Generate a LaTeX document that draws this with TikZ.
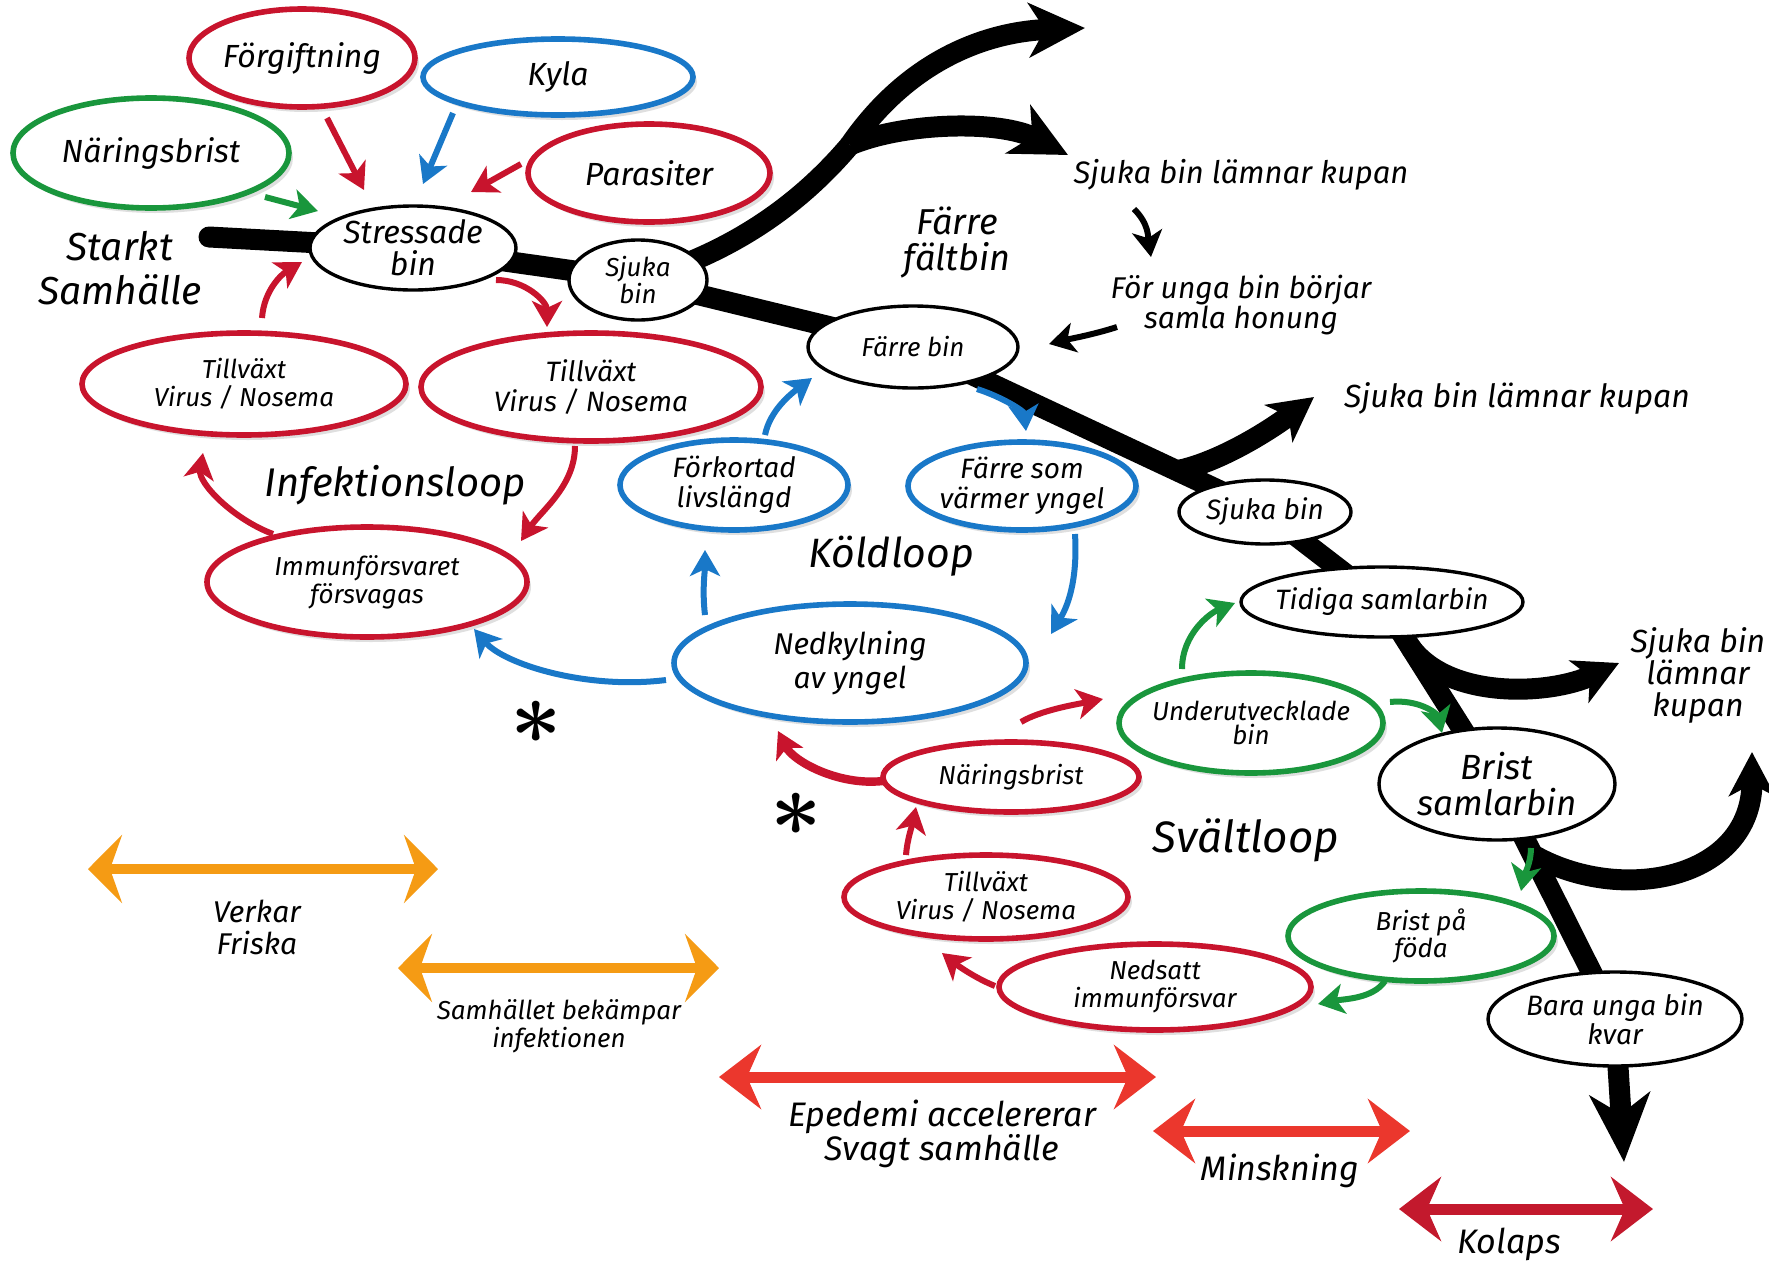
\documentclass[tikz,border=0pt]{standalone}
\usepackage{fontspec}
\setmainfont{Fira Sans}
\usetikzlibrary{shapes.geometric,arrows.meta,calc,shadows}
\definecolor{cred}{RGB}{200,20,45}
\definecolor{cblue}{RGB}{25,120,200}
\definecolor{cgreen}{RGB}{25,150,60}
\definecolor{corange}{RGB}{245,155,20}
\definecolor{bred}{RGB}{235,55,45}
\definecolor{dred}{RGB}{195,25,45}
\newcommand\fz[2]{\fontsize{#1}{#2}\selectfont\itshape}
\pgfdeclarelayer{bg}
\pgfsetlayers{bg,main}
\begin{document}
\begin{tikzpicture}[x=0.5pt,y=-0.5pt,
  shad/.style={drop shadow={shadow xshift=2pt,shadow yshift=-2.5pt,opacity=0.25}},
  ell/.style={ellipse,inner sep=0pt,fill=white},
  bk/.style={ell,draw=black,line width=1.7pt},
  rd/.style={ell,draw=cred,line width=2.8pt,shad},
  bu/.style={ell,draw=cblue,line width=2.8pt,shad},
  gn/.style={ell,draw=cgreen,line width=2.8pt,shad},
  sz/.style 2 args={minimum width=#1pt,minimum height=#2pt},
  tx/.style={align=center,inner sep=0pt},
  L/.style n args={3}{label={[tx,font=\fz{#1}{#2}]center:{#3}}},
  ca/.style={line width=3pt,-{Stealth[length=13pt,width=15pt,inset=3.5pt]}},
  trunk/.style={line width=10.5pt,black,line join=round},
  bighead/.style={-{Stealth[length=28pt,width=27pt,inset=8pt]}},
  midhead/.style={-{Stealth[length=22pt,width=23pt,inset=6pt]}},
  ob/.style={line width=5pt,corange,{Stealth[length=17pt,width=34pt,inset=6pt]}-{Stealth[length=17pt,width=34pt,inset=6pt]}},
  rb/.style={line width=5.5pt,#1,{Stealth[length=21pt,width=32pt,inset=7pt]}-{Stealth[length=21pt,width=32pt,inset=7pt]}},
  astx/.style={tx,scale=1.8,font=\boldmath\fontsize{24}{24}\selectfont},
]
\useasboundingbox (0,0) rectangle (1769,1264);
\begin{pgfonlayer}{bg}
\fill[white] (0,0) rectangle (1769,1264);
\end{pgfonlayer}

% ellipses
\node[rd,sz={113}{49},L={16}{17}{Förgiftning}] (forg) at (302,58) {};
\node[bu,sz={135}{38},L={16}{17}{Kyla}] (kyla) at (558,77) {};
\node[gn,sz={138}{55},L={16}{17}{Näringsbrist}] (naer) at (151,153) {};
\node[rd,sz={121}{49},L={16}{17}{Parasiter}] (para) at (649,173) {};
\node[bk,sz={103}{42},L={16}{16}{Stressade\\bin}] (stress) at (413,248) {};
\node[bk,sz={69}{40},L={13}{12}{Sjuka\\bin}] (sjuka1) at (638,280) {};
\node[bk,sz={105}{41},L={13}{14}{Färre bin}] (farre) at (913,347) {};
\node[rd,sz={162}{51},L={13}{14}{Tillväxt\\Virus / Nosema}] (tvL) at (244,384) {};
\node[rd,sz={170}{54},L={14}{15}{Tillväxt\\Virus / Nosema}] (tvR) at (591,387) {};
\node[rd,sz={160}{55},L={13}{14}{Immunförsvaret\\försvagas}] (immun) at (367,582) {};
\node[bu,sz={114}{45},L={14}{15}{Förkortad\\livslängd}] (fork) at (734,485) {};
\node[bu,sz={114}{44},L={14}{15}{Färre som\\värmer yngel}] (farresom) at (1022,486) {};
\node[bu,sz={176}{59},L={15}{17}{Nedkylning\\av yngel}] (ned) at (850,663) {};
\node[bk,sz={86}{32},L={14}{15}{Sjuka bin}] (sjuka2) at (1265,512) {};
\node[bk,sz={141}{35},L={14}{15}{Tidiga samlarbin}] (tidiga) at (1382,602) {};
\node[gn,sz={132}{50},L={13}{12}{Underutvecklade\\bin}] (under) at (1251,723) {};
\node[bk,sz={118}{56},L={17.5}{18}{Brist\\samlarbin}] (brist) at (1497,784) {};
\node[rd,sz={128}{35},L={13}{14}{Näringsbrist}] (naer2) at (1011,777) {};
\node[rd,sz={142}{42},L={13}{14}{Tillväxt\\Virus / Nosema}] (tv2) at (986,897) {};
\node[rd,sz={156}{43},L={13}{14}{Nedsatt\\immunförsvar}] (nedsatt) at (1155,987) {};
\node[gn,sz={133}{45},L={13}{12}{Brist på\\föda}] (foda) at (1421,936) {};
\node[bk,sz={127}{47},L={14}{13}{Bara unga bin\\kvar}] (bara) at (1615,1019) {};

% free text
\node[tx,font=\fz{19.5}{22}] (starkt) at (120,268) {Starkt\\Samhälle};
\node[tx,font=\fz{18}{18}] (faltbin) at (957,243) {Färre\\fältbin};
\node[tx,font=\fz{15.5}{17}] (t1) at (1241,175) {Sjuka bin lämnar kupan};
\node[tx,font=\fz{15}{15}] (t2) at (1241,305) {För unga bin börjar\\samla honung};
\node[tx,font=\fz{16}{17}] (t3) at (1517,398) {Sjuka bin lämnar kupan};
\node[tx,font=\fz{16}{16}] (t4) at (1698,675) {Sjuka bin\\lämnar\\kupan};
\node[tx,font=\fz{20}{22}] (infl) at (395,485) {Infektionsloop};
\node[tx,font=\fz{20.5}{22}] (koldl) at (891,556) {Köldloop};
\node[tx,font=\fz{22}{23}] (svalt) at (1246,840) {Svältloop};
\node[astx] (ast1) at (536,722) {$\ast$};
\node[astx] (ast2) at (796,814) {$\ast$};

% trunk
\coordinate (start) at (209,237);
\coordinate (split) at (850,145);
\coordinate (tipTop) at (1085,28);
\coordinate (tipB) at (1068,155);
\coordinate (b3) at ($(farre)!0.75!(sjuka2)$);
\coordinate (tip3) at (1314,397);
\coordinate (b4) at ($(tidiga)!0.25!(brist)$);
\coordinate (tip4) at (1619,663);
\coordinate (b5) at ($(brist)!0.3!(bara)$);
\coordinate (tip5) at (1752,752);
\coordinate (tipbara) at (1624,1162);
\begin{pgfonlayer}{bg}
\draw[trunk,line cap=round] (start) -- (stress.center) -- (sjuka1.center) -- (farre.center) -- (sjuka2.center) -- (tidiga.center) -- (brist.center) -- (bara.center);
\draw[trunk] (sjuka1.center) .. controls (725,255) and (795,210) .. (split);
\draw[trunk,bighead] (split) .. controls (905,65) and (980,32) .. (tipTop);
\draw[trunk,bighead] (split) .. controls (905,122) and (1000,120) .. (tipB);
\draw[trunk,midhead] (b3) .. controls (1220,462) and (1270,430) .. (tip3);
\draw[trunk,midhead] (b4) .. controls (1450,700) and (1550,695) .. (tip4);
\draw[trunk,midhead] (b5) .. controls (1620,905) and (1752,880) .. (tip5);
\draw[trunk,-{Stealth[length=34pt,width=30pt,inset=10pt]}] (bara.center) -- (tipbara);
\end{pgfonlayer}

% coloured connectors
\draw[ca,cred] ($(forg)+(25,60)$) -- ($(stress)+(-49,-58)$);
\draw[ca,cblue] ($(kyla)+(-105,36)$) -- ($(stress)+(10,-64)$);
\draw[ca,cred] ($(para)+(-128,-9)$) -- ($(stress)+(58,-56)$);
\draw[ca,cgreen] ($(naer)+(114,44)$) -- ($(stress)+(-95,-37)$);
\draw[ca,cred] ($(tvL)+(18,-66)$) .. controls +(2,-28) and +(-20,12) .. ($(stress)+(-111,14)$);
\draw[ca,cred] ($(stress)+(83,32)$) .. controls +(30,0) and +(0,-25) .. ($(tvR)+(-44,-60)$);
\draw[ca,cred] ($(tvR)+(-16,59)$) .. controls +(0,40) and +(20,-30) .. ($(immun)+(154,-41)$);
\draw[ca,cred] ($(immun)+(-94,-48)$) .. controls +(-40,-15) and +(-5,30) .. ($(tvL)+(-41,69)$);
\draw[ca,cblue] ($(ned)+(-184,17)$) .. controls +(-80,10) and +(30,35) .. ($(immun)+(107,47)$);
\draw[ca,cblue] ($(ned)+(-145,-48)$) .. controls +(-3,-25) and +(0,20) .. ($(fork)+(-29,65)$);
\draw[ca,cblue] ($(fork)+(31,-50)$) .. controls +(5,-25) and +(-20,15) .. ($(farre)+(-101,31)$);
\draw[ca,cblue] ($(farre)+(64,42)$) .. controls +(25,8) and +(-2,-20) .. ($(farresom)+(4,-55)$);
\draw[ca,cblue] ($(farresom)+(53,48)$) .. controls +(3,50) and +(15,-25) .. ($(ned)+(201,-29)$);
\draw[ca,cred,line width=4.2pt] ($(naer2)+(-128,4)$) .. controls +(-45,5) and +(15,30) .. ($(ned)+(-72,68)$);
\draw[ca,cred] ($(naer2)+(10,-55)$) .. controls +(20,-12) and +(-25,5) .. ($(under)+(-148,-24)$);
\draw[ca,cgreen] ($(under)+(-69,-54)$) .. controls +(0,-35) and +(-25,10) .. ($(tidiga)+(-147,1)$);
\draw[ca,cgreen] ($(under)+(139,-21)$) .. controls +(28,-3) and +(-5,-20) .. ($(brist)+(-55,-51)$);
\draw[ca,cgreen] ($(brist)+(34,64)$) .. controls +(0,15) and +(3,-15) .. ($(foda)+(100,-45)$);
\draw[ca,cgreen] ($(foda)+(-36,45)$) .. controls +(-12,18) and +(25,-5) .. ($(nedsatt)+(163,17)$);
\draw[ca,cred] ($(nedsatt)+(-160,-1)$) .. controls +(-20,-8) and +(15,12) .. ($(tv2)+(-44,56)$);
\draw[ca,cred] ($(tv2)+(-80,-42)$) .. controls +(1,-15) and +(-3,15) .. ($(naer2)+(-95,30)$);
\draw[ca,black] ($(t1)+(-107,34)$) .. controls +(15,15) and +(-3,-20) .. ($(t2)+(-90,-48)$);
\draw[ca,black] ($(t2)+(-124,22)$) .. controls +(-25,8) and +(20,-5) .. ($(farre)+(136,-3)$);

% phase arrows
\coordinate (o1a) at (88,869);   \coordinate (o1b) at (438,869);
\coordinate (o2a) at (398,968);  \coordinate (o2b) at (719,968);
\coordinate (r1a) at (719,1077); \coordinate (r1b) at (1156,1077);
\coordinate (r2a) at (1153,1131);\coordinate (r2b) at (1410,1131);
\coordinate (r3a) at (1399,1209);\coordinate (r3b) at (1653,1209);
\draw[ob] (o1a) -- (o1b);
\draw[ob] (o2a) -- (o2b);
\draw[rb=bred] (r1a) -- (r1b);
\draw[rb=bred] (r2a) -- (r2b);
\draw[rb=dred] (r3a) -- (r3b);
\node[tx,font=\fz{15}{16}] (verkar) at (257,927) {Verkar\\Friska};
\node[tx,font=\fz{13}{14}] (samh) at (559,1026) {Samhället bekämpar\\infektionen};
\node[tx,font=\fz{17}{17}] (eped) at (942,1134) {Epedemi accelererar\\Svagt samhälle};
\node[tx,font=\fz{17}{18}] (minsk) at (1280,1171) {Minskning};
\node[tx,font=\fz{17}{18}] (kolaps) at (1509,1244) {Kolaps};
\end{tikzpicture}
\end{document}
